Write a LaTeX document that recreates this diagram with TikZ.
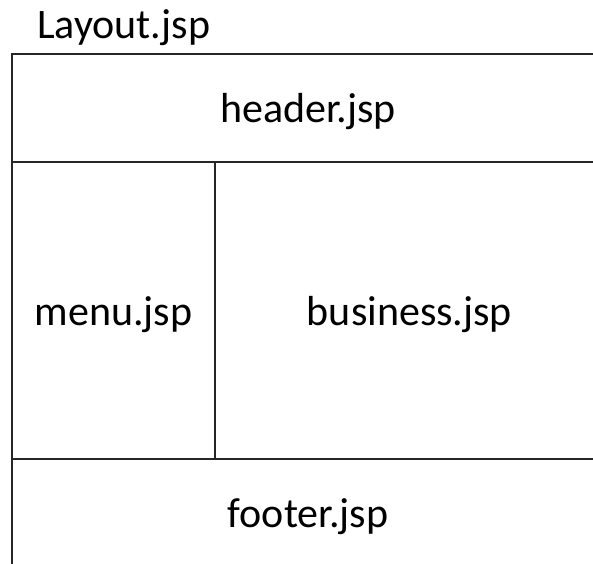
\documentclass[tikz,border=0pt]{standalone}
\usepackage{fontspec}
\setmainfont{Carlito}
\begin{document}
\begin{tikzpicture}[x=1pt,y=-1pt,
  cell/.style={draw=black!85,line width=1.6pt,inner sep=0pt},
  lbl/.style={inner sep=0pt,font=\fontsize{42}{50}\selectfont,text=black,yshift=-4pt},
  title/.style={inner sep=0pt,font=\fontsize{42}{50}\selectfont,text=black}]
\useasboundingbox (0,0) rectangle (593,563);
\clip (0,0) rectangle (593,563);
\node[cell,minimum width=592pt,minimum height=108pt] (header) at (308,108) {};
\node[cell,minimum width=203pt,minimum height=297pt] (menu) at (113.5,310.5) {};
\node[cell,minimum width=389pt,minimum height=297pt] (business) at (409.5,310.5) {};
\node[cell,minimum width=592pt,minimum height=108pt] (footer) at (308,513) {};
\node[lbl] (headerlbl) at (header.center) {header.jsp};
\node[lbl] (menulbl) at (menu.center) {menu.jsp};
\node[lbl] (businesslbl) at (business.center) {business.jsp};
\node[lbl] (footerlbl) at (footer.center) {footer.jsp};
\node[title,anchor=base west] (layout) at (37,38) {Layout.jsp};
\end{tikzpicture}
\end{document}
